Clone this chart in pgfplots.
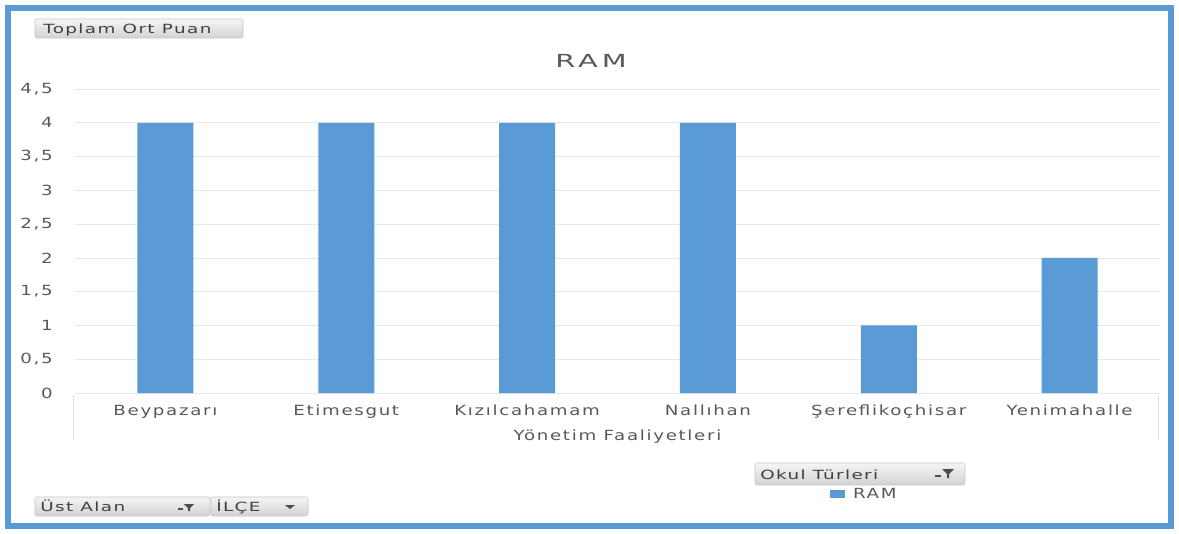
\documentclass[border=0pt]{standalone}
\usepackage{fontspec}
\setmainfont{DejaVu Sans}[FakeStretch=1.3, LetterSpace=12]
\newfontfamily\btnfont{DejaVu Sans}[FakeStretch=1.45, LetterSpace=11]
\newfontfamily\titlefont{DejaVu Sans}[FakeStretch=1.6, LetterSpace=22]
\usepackage{pgfplots}
\pgfplotsset{compat=1.18}
\definecolor{barblue}{HTML}{5B9BD5}
\definecolor{txtgray}{HTML}{595959}
\definecolor{gridgray}{HTML}{E8E8E8}

\begin{document}
\begin{tikzpicture}
% frame and pivot buttons, in pixel units of the reference
\begin{scope}[x=0.75pt,y=-0.75pt]
  \fill[white] (0,0) rectangle (1179,533);
  \draw[barblue, line width=4.5pt] (8,8) rectangle (1171,526);
  \draw[gray!25] (73,395) -- (73,440);
  \draw[gray!25] (1158,395) -- (1158,440);
  % Toplam Ort Puan
  \shade[top color=gray!8, bottom color=gray!35, draw=gray!45, rounded corners=1.5pt]
    (35,19) rectangle (243,38);
  \node[anchor=base west, inner sep=0pt, font=\btnfont\fontsize{9.5}{11}\selectfont, text=black!75]
    at (43,33) {Toplam Ort Puan};
  % Ust Alan
  \shade[top color=gray!8, bottom color=gray!35, draw=gray!45, rounded corners=1.5pt]
    (35,497) rectangle (210,516);
  \node[anchor=base west, inner sep=0pt, font=\btnfont\fontsize{9.5}{11}\selectfont, text=black!75]
    at (40,511) {Üst Alan};
  \fill[black!70] (184,504) -- (194,504) -- (190,508) -- (190,511) -- (188,511) -- (188,508) -- cycle;
  \draw[black!70, line width=0.8pt] (178,509) -- (183,509);
  % ILCE
  \shade[top color=gray!8, bottom color=gray!35, draw=gray!45, rounded corners=1.5pt]
    (211,497) rectangle (308,516);
  \node[anchor=base west, inner sep=0pt, font=\btnfont\fontsize{9.5}{11}\selectfont, text=black!75]
    at (216,511) {İLÇE};
  \fill[black!70] (285,505) -- (295,505) -- (290,509) -- cycle;
  % Okul Turleri
  \shade[top color=gray!8, bottom color=gray!35, draw=gray!45, rounded corners=1.5pt]
    (755,463) rectangle (965,485);
  \node[anchor=base west, inner sep=0pt, font=\btnfont\fontsize{9.5}{11}\selectfont, text=black!75]
    at (760,479) {Okul Türleri};
  \fill[black!70] (942,469) -- (954,469) -- (949,474) -- (949,478) -- (947,478) -- (947,474) -- cycle;
  \draw[black!70, line width=0.8pt] (935,476) -- (941,476);
\end{scope}

\begin{axis}[
    at={(56.25pt,-294.75pt)}, anchor=south west,
    scale only axis,
    width=813.75pt, height=228pt,
    xmin=-0.5, xmax=5.5,
    ymin=0, ymax=4.5,
    ytick={0,0.5,...,4.5},
    xtick={0,1,2,3,4,5},
    xticklabels={Beypazarı,Etimesgut,Kızılcahamam,Nallıhan,Şereflikoçhisar,Yenimahalle},
    axis line style={draw=none},
    major tick length=0pt,
    ymajorgrids, grid style={gridgray, line width=0.6pt},
    /pgf/number format/use comma,
    /pgf/number format/assume math mode=true,
    ticklabel style={text=txtgray, font=\fontsize{10.5}{12}\selectfont},
    yticklabel style={anchor=east, inner sep=0pt, xshift=-16.5pt},
    xticklabel style={anchor=base, inner sep=0pt, yshift=-16.5pt},
    xlabel={Yönetim Faaliyetleri},
    xlabel style={at={(axis description cs:0.5,0)}, anchor=base, yshift=-35.5pt,
      text=txtgray, font=\fontsize{10.5}{12}\selectfont},
    title={RAM},
    every axis title shift=0pt,
    title style={at={(axis description cs:0.4756,1)}, anchor=base, yshift=16.5pt,
      inner sep=0pt, text=txtgray, font=\titlefont\fontsize{13.5}{15}\selectfont},
    legend style={at={(axis description cs:0.696,-0.332)}, anchor=west,
      draw=none, fill=none, inner sep=0pt, column sep=4pt,
      font=\fontsize{10.5}{12}\selectfont, text=txtgray},
    legend image code/.code={\fill[barblue] (0pt,-3pt) rectangle (11pt,3pt);},
]
\addplot[ybar, fill=barblue, draw=none, bar width=42pt]
  coordinates {(0,4) (1,4) (2,4) (3,4) (4,1) (5,2)};
\addlegendentry{RAM}
\end{axis}
\end{tikzpicture}
\end{document}
